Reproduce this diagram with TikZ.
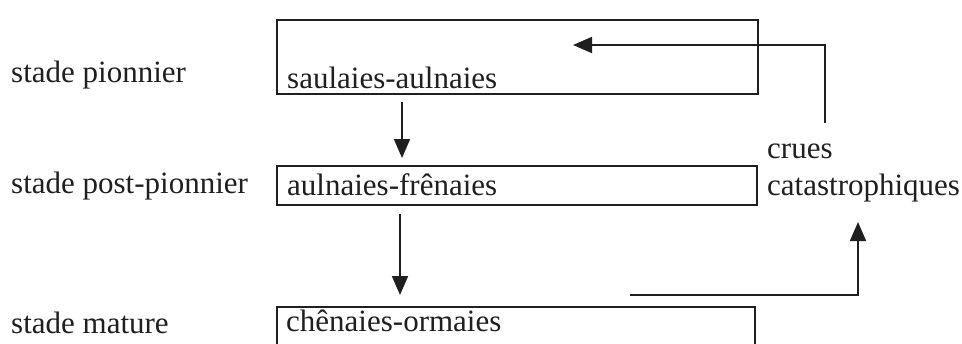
\documentclass[tikz,border=0pt]{standalone}
\usepackage{fontspec}
\setmainfont{Liberation Serif}
\usetikzlibrary{arrows.meta}
\begin{document}
\begin{tikzpicture}[x=1pt,y=-1pt,
  every node/.style={font=\fontsize{31}{37}\selectfont, inner sep=0pt, text=black!88},
  label/.style={anchor=base west},
  stagebox/.style={draw=black!88, line width=1.8pt, anchor=north west, inner sep=0pt},
  flow/.style={draw=black!88, line width=1.8pt, -{Triangle[length=19pt,width=16pt]}}]
\clip (0,0) rectangle (962,343);
\fill[white] (0,0) rectangle (962,343);

% stage names
\node[label] (sp)  at (11,82)  {stade pionnier};
\node[label] (spp) at (11,193) {stade post-pionnier};
\node[label] (sm)  at (11,333) {stade mature};

% vegetation boxes (the last one runs past the lower edge)
\node[stagebox, minimum width=481pt, minimum height=74pt] (b1) at (276,19) {};
\node[stagebox, minimum width=480pt, minimum height=39pt] (b2) at (276,165) {};
\node[stagebox, minimum width=478pt, minimum height=60pt] (b3) at (276,306) {};

\node[label] (t1) at (287,88)  {saulaies-aulnaies};
\node[label] (t2) at (287,195) {aulnaies-frênaies};
\node[label] (t3) at (286,331) {chênaies-ormaies};

% disturbance
\node[label] (cr) at (767,158) {crues};
\node[label] (ca) at (767,195) {catastrophiques};

% succession arrows
\coordinate (d1s) at (402,102);
\coordinate (d1e) at (402,158);
\coordinate (d2s) at (400,214);
\coordinate (d2e) at (400,295);
\draw[flow] (d1s) -- (d1e);
\draw[flow] (d2s) -- (d2e);

% reset by floods
\coordinate (r0) at (825,123);
\coordinate (r1) at (825,45);
\coordinate (r2) at (573,45);
\draw[flow] (r0) -- (r1) -- (r2);

\coordinate (m0) at (630,295);
\coordinate (m1) at (858,295);
\coordinate (m2) at (858,222);
\draw[flow] (m0) -- (m1) -- (m2);
\end{tikzpicture}
\end{document}
